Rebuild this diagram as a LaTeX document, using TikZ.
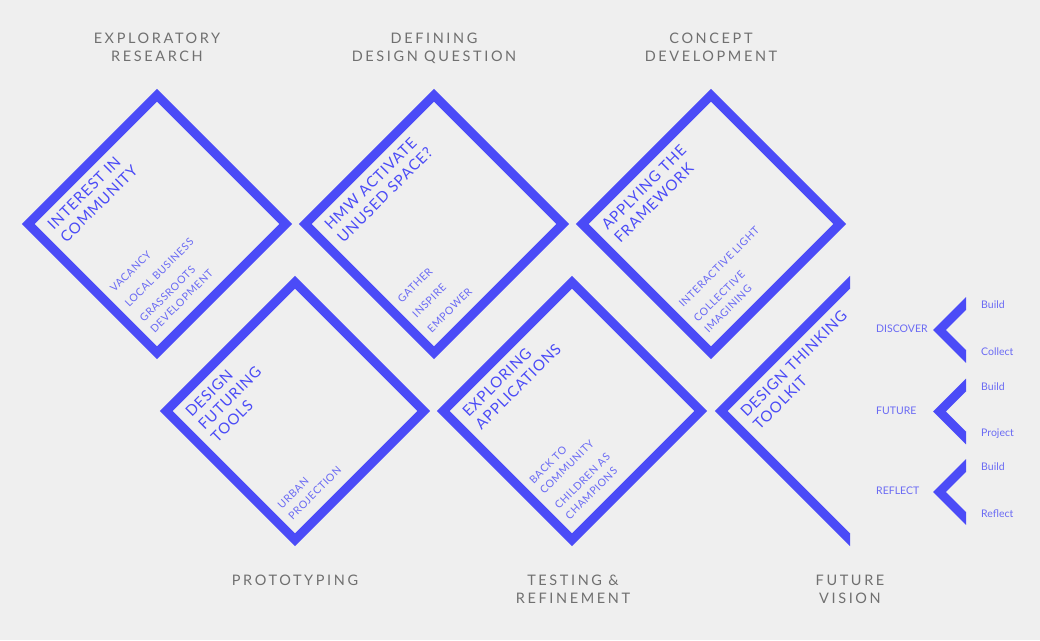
\documentclass[tikz,border=0pt]{standalone}
\usepackage{fontspec}
\setmainfont{Lato}
\newfontfamily\stagefont[LetterSpace = 18]{Lato}
\newfontfamily\boxfont[LetterSpace = 6]{Lato}
\definecolor{bgcol}{HTML}{EFEFEF}
\definecolor{dtblue}{HTML}{4B4BF7}
\definecolor{itemblue}{HTML}{6A6AF4}
\definecolor{stagegray}{HTML}{707070}
\tikzset{
    boxline/.style = {draw = dtblue, line width = 9pt},
    boxtitle/.style = {font = \boxfont\fontsize{15}{18}\selectfont, text = dtblue, align = left, inner sep = 0pt, transform shape},
    boxitems/.style = {font = \boxfont\fontsize{10.5}{15}\selectfont, text = itemblue, align = left, inner sep = 0pt, transform shape},
    stage/.style = {font = \stagefont\fontsize{14.5}{18}\selectfont, text = stagegray, align = center, anchor = north, inner sep = 0pt},
    phase/.style = {font = \fontsize{10.5}{12}\selectfont, text = itemblue, inner sep = 0pt}
}
\begin{document}
\begin{tikzpicture}[x = 1pt, y = 1pt]
    \useasboundingbox (0,0) rectangle (1040,640);
    \fill[bgcol] (0,0) rectangle (1040,640);
    % stage labels
    \node[stage] (research) at (157,607) {EXPLORATORY\\RESEARCH};
    \node[stage] (question) at (434,607) {DEFINING\\DESIGN QUESTION};
    \node[stage] (concept) at (711,607) {CONCEPT\\DEVELOPMENT};
    \node[stage] (prototyping) at (295,65) {PROTOTYPING};
    \node[stage] (testing) at (573,65) {TESTING \&\\REFINEMENT};
    \node[stage] (vision) at (850,65) {FUTURE\\VISION};
    % full diamonds
    \foreach \cx/\cy/\name/\title/\items in {
        157/416/interest/{INTEREST IN\\COMMUNITY}/{VACANCY\\[6pt]LOCAL BUSINESS\\[6pt]GRASSROOTS\\DEVELOPMENT},
        434/416/hmw/{HMW ACTIVATE\\UNUSED SPACE?}/{GATHER\\[6pt]INSPIRE\\[6pt]EMPOWER},
        711/416/applying/{APPLYING THE\\FRAMEWORK}/{INTERACTIVE LIGHT\\[6pt]COLLECTIVE\\IMAGINING},
        295/229/futuring/{DESIGN\\FUTURING\\TOOLS}/{URBAN\\PROJECTION},
        572/229/exploring/{EXPLORING\\APPLICATIONS}/{BACK TO\\COMMUNITY\\[6pt]CHILDREN AS\\CHAMPIONS}} {
        \begin{scope}[shift = {(\cx,\cy)}, rotate = 45]
            \draw[boxline] (-91,-91) rectangle (91,91);
            \node[boxtitle, anchor = north west] (\name-title) at (-78,79) {\title};
            \node[boxitems, anchor = south west] (\name-items) at (-79,-76) {\items};
        \end{scope}
    }
    % half diamond
    \begin{scope}
        \clip (700,80) rectangle (850,380);
        \draw[boxline, shift = {(850,229)}, rotate = 45] (-91,-91) rectangle (91,91);
    \end{scope}
    \begin{scope}[shift = {(850,229)}, rotate = 45]
        \node[boxtitle, anchor = north west] (toolkit-title) at (-78,79) {DESIGN THINKING\\TOOLKIT};
    \end{scope}
    % chevrons
    \foreach \cy/\name/\phasename/\upper/\lower in {310/discover/DISCOVER/Build/Collect, 228.5/future/FUTURE/Build/Project, 148/reflect/REFLECT/Build/Reflect} {
        \begin{scope}
            \clip (920,\cy-40) rectangle (966,\cy+40);
            \draw[boxline, shift = {(966,\cy)}, rotate = 45] (-18.8,-18.8) rectangle (18.8,18.8);
        \end{scope}
        \node[phase, anchor = mid west] (\name) at (876,\cy) {\phasename};
        \node[phase, anchor = mid west] (\name-upper) at (981,\cy+24) {\upper};
        \node[phase, anchor = mid west] (\name-lower) at (981,\cy-22.5) {\lower};
    }
\end{tikzpicture}
\end{document}
